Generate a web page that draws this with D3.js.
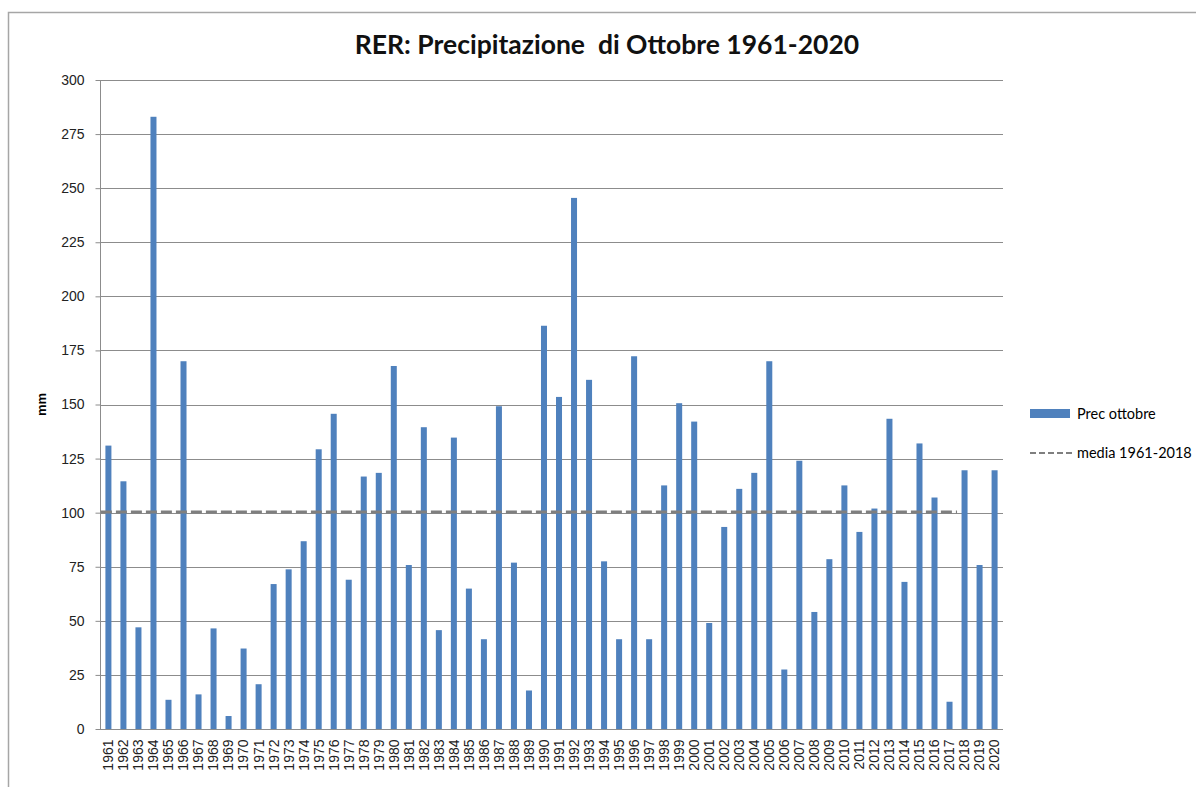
<!DOCTYPE html>
<html>
<head>
<meta charset="utf-8">
<script src="https://cdn.jsdelivr.net/npm/d3@7"></script>
<style>
  body { margin: 0; background: #fff; }
  .axis text { font-family: "Liberation Sans", Arial, sans-serif; font-size: 14px; fill: #222; }
  .xaxis text { font-size: 14px; }
  .grid line { stroke: #8c8c8c; stroke-width: 1; }
</style>
</head>
<body>
<div id="chart"></div>
<script>
// chart canvas
var w = 1196;
var h = 787;
var plotLeft = 100, plotRight = 1003, plotTop = 80, plotBottom = 729;

// October precipitation (mm)
var years = d3.range(1961, 2021).map(String);
var precOttobre = [
  131, 114.5, 47, 283, 13.5, 170, 16, 46.5, 6, 37.2,
  20.7, 67, 73.8, 86.8, 129.3, 145.7, 69, 116.7, 118.4, 167.8,
  75.8, 139.5, 45.7, 134.7, 64.9, 41.5, 149.2, 76.9, 17.8, 186.4,
  153.5, 245.5, 161.4, 77.5, 41.5, 172.3, 41.5, 112.6, 150.6, 142.1,
  49, 93.4, 111, 118.4, 170, 27.5, 124, 54.1, 78.5, 112.6,
  91.1, 101.9, 143.4, 68, 132, 107, 12.6, 119.6, 75.8, 119.6
];
var mediaYears = d3.range(1961, 2019).map(String);
var mediaValue = 100.3;
var yTicks = d3.range(0, 301, 25);

var svg = d3.select("#chart")
  .append("svg")
  .attr("width", w)
  .attr("height", h);

// outer frame (top and left edges visible)
svg.append("path")
  .attr("d", "M8.5," + h + " V12.5 H" + w)
  .attr("fill", "none")
  .attr("stroke", "#a6a6a6")
  .attr("stroke-width", 1.5);

var xScale = d3.scaleBand()
  .domain(years)
  .range([plotLeft, plotRight])
  .paddingInner(0.6)
  .paddingOuter(0.36);

var yScale = d3.scaleLinear()
  .domain([0, 300])
  .range([plotBottom, plotTop]);

// gridlines
svg.append("g")
  .attr("class", "grid")
  .selectAll("line")
  .data(yTicks.filter(d => d > 0))
  .join("line")
  .attr("x1", plotLeft)
  .attr("x2", plotRight)
  .attr("y1", d => Math.round(yScale(d)) + 0.5)
  .attr("y2", d => Math.round(yScale(d)) + 0.5);

// y axis
var yAxis = d3.axisLeft(yScale)
  .tickValues(yTicks)
  .tickSize(5)
  .tickPadding(11);

svg.append("g")
  .attr("class", "axis")
  .attr("transform", "translate(" + (plotLeft + 0.5) + ",0)")
  .call(yAxis)
  .call(g => g.selectAll("line, path").attr("stroke", "#8c8c8c"))
  .call(g => g.select(".domain").attr("d", "M0," + yScale(300) + "V" + yScale(0)));

// bars
svg.append("g")
  .selectAll("rect")
  .data(years)
  .join("rect")
  .attr("x", d => xScale(d))
  .attr("width", xScale.bandwidth())
  .attr("y", (d, i) => yScale(precOttobre[i]))
  .attr("height", (d, i) => yScale(0) - yScale(precOttobre[i]))
  .attr("fill", "#4f81bd");

// x axis
var xAxis = d3.axisBottom(xScale).tickSize(0).tickPadding(0);
svg.append("g")
  .attr("class", "axis xaxis")
  .attr("transform", "translate(0," + (yScale(0) + 0.5) + ")")
  .call(xAxis)
  .call(g => g.select(".domain").attr("stroke", "#8c8c8c").attr("d", "M" + plotLeft + ",0H" + plotRight))
  .selectAll("text")
  .attr("transform", "rotate(-90)")
  .attr("text-anchor", "end")
  .attr("x", -10)
  .attr("y", 0)
  .attr("dy", "0.35em");

// mean line 1961-2018
var mediaLine = d3.line()
  .x(d => xScale(d) + xScale.bandwidth() / 2 - xScale.step() / 2)
  .y(() => yScale(mediaValue));

svg.append("path")
  .datum(mediaYears)
  .attr("d", mediaLine)
  .attr("fill", "none")
  .attr("stroke", "#7f7f7f")
  .attr("stroke-width", 3)
  .attr("stroke-dasharray", "11,4");

// title
svg.append("text")
  .attr("x", 607)
  .attr("y", 54)
  .attr("text-anchor", "middle")
  .style("white-space", "pre")
  .style("font-family", "Lato, 'Open Sans', sans-serif")
  .style("font-weight", "bold")
  .style("font-size", "26.5px")
  .style("fill", "#111")
  .text("RER: Precipitazione  di Ottobre 1961-2020");

// y label
svg.append("text")
  .attr("transform", "translate(46," + yScale(150) + ") rotate(-90)")
  .attr("text-anchor", "middle")
  .style("font-family", "'Liberation Sans', Arial, sans-serif")
  .style("font-weight", "bold")
  .style("font-size", "13px")
  .text("mm");

// legend
var legend = svg.append("g")
  .attr("transform", "translate(1030,0)");

legend.append("rect")
  .attr("x", 0).attr("y", 409)
  .attr("width", 40).attr("height", 9)
  .attr("fill", "#4f81bd");

legend.append("text")
  .attr("x", 47).attr("y", 419)
  .style("font-family", "Lato, 'Open Sans', sans-serif")
  .style("font-size", "14.5px")
  .text("Prec ottobre");

legend.append("line")
  .attr("x1", 0).attr("x2", 42)
  .attr("y1", 453).attr("y2", 453)
  .attr("stroke", "#7f7f7f")
  .attr("stroke-width", 2)
  .attr("stroke-dasharray", "6,3");

legend.append("text")
  .attr("x", 47).attr("y", 458)
  .style("font-family", "Lato, 'Open Sans', sans-serif")
  .style("font-size", "14.5px")
  .text("media 1961-2018");
</script>
</body>
</html>
